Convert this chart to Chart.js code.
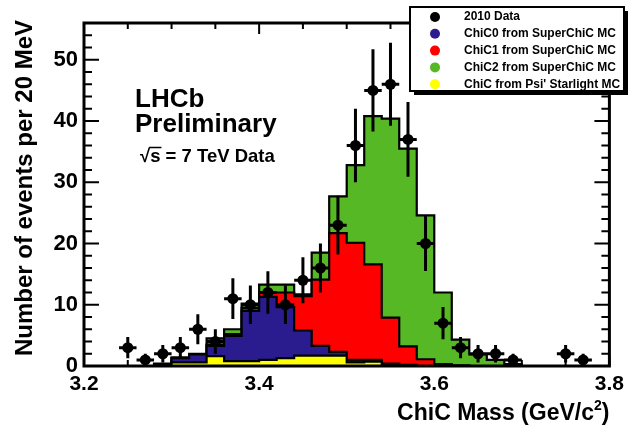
<!DOCTYPE html>
<html lang="en">
<head>
<meta charset="UTF-8">
<title>ChiC mass - LHCb preliminary</title>
<style>
  html, body { margin: 0; padding: 0; background: #fff; }
  #wrap { width: 630px; height: 431px; }
</style>
</head>
<body>
<div id="wrap"><canvas id="chicChart" width="630" height="431"></canvas></div>
<script src="https://cdn.jsdelivr.net/npm/chart.js"></script>
<script>
// 20 MeV bins, centres in GeV/c^2
const binCentres = [3.21, 3.23, 3.25, 3.27, 3.29, 3.31, 3.33, 3.35, 3.37, 3.39,
                    3.41, 3.43, 3.45, 3.47, 3.49, 3.51, 3.53, 3.55, 3.57, 3.59,
                    3.61, 3.63, 3.65, 3.67, 3.69, 3.71, 3.73, 3.75, 3.77, 3.79];

// 2010 data (events per bin)
const dataCounts = [0, 0, 3, 1, 2, 3, 6, 4, 11, 10,
                    12, 10, 14, 16, 23, 36, 45, 46, 37, 20,
                    7, 3, 2, 2, 1, 0, 0, 2, 1, 0];

// MC templates (not stacked)
const psiStarlight = [0, 0, 0, 0, 0, 0.6, 0.6, 1.6, 0.8, 0.8,
                      1.0, 1.3, 1.7, 1.7, 1.7, 0.6, 0.7, 0.2, 0.1, 0,
                      0, 0, 0, 0, 0, 0, 0, 0, 0, 0];
const chic0 = [0, 0, 0, 0, 0.3, 0.7, 1.3, 1.7, 4.1, 8.2,
               10.3, 8.3, 4.1, 1.6, 0.6, 0.4, 0.3, 0.2, 0.1, 0,
               0, 0, 0, 0, 0, 0, 0, 0, 0, 0];
const chic1 = [0, 0, 0, 0, 0, 0, 0, 0.2, 0.3, 0.5,
               0.7, 2.4, 5.6, 10.8, 19.4, 19.1, 15.6, 7.5, 3.0, 1.1,
               0.3, 0.1, 0, 0, 0, 0, 0, 0, 0, 0];
const chic2 = [0, 0, 0, 0, 0.1, 0.1, 0.1, 1.0, 0.8, 0.7,
               1.3, 1.3, 0.3, 4.4, 6.0, 12.7, 24.2, 32.5, 32.3, 23.5,
               11.7, 4.2, 1.9, 1.0, 0.3, 0, 0, 0, 0, 0];

const legendLabels = ['2010 Data', 'ChiC0 from SuperChiC MC', 'ChiC1 from SuperChiC MC',
                      'ChiC2 from SuperChiC MC', "ChiC from Psi' Starlight MC"];

const colours = { data: '#000000', chic0: '#2a1b8e', chic1: '#ff0000', chic2: '#55b824', psi: '#ffff00' };
const FONT = "'Liberation Sans', Arial, Helvetica, sans-serif";
const halfBin = 0.01;

// stack the templates: psi' at the bottom, then chic0, chic1, chic2
function cumulate(layers) {
    return binCentres.map((_, i) => layers.reduce((s, l) => s + l[i], 0));
}
const cumPsi = cumulate([psiStarlight]);
const cumChic0 = cumulate([psiStarlight, chic0]);
const cumChic1 = cumulate([psiStarlight, chic0, chic1]);
const cumChic2 = cumulate([psiStarlight, chic0, chic1, chic2]);

// points on the lower bin edges plus the last upper edge, for a stepped outline
function stepPoints(vals) {
    const pts = binCentres.map((c, i) => ({ x: c - halfBin, y: vals[i] }));
    pts.push({ x: binCentres[binCentres.length - 1] + halfBin, y: vals[vals.length - 1] });
    return pts;
}

function stepDataset(vals, colour, order) {
    return {
        data: stepPoints(vals),
        stepped: true,
        fill: 'origin',
        backgroundColor: colour,
        borderColor: '#000',
        borderWidth: 2.2,
        pointRadius: 0,
        tension: 0,
        order: order
    };
}

const dataPoints = binCentres
    .map((c, i) => ({ x: c, y: dataCounts[i] }))
    .filter(p => p.y > 0);

// ROOT-like frame, ticks, error bars, labels and legend
const rootStyle = {
    id: 'rootStyle',
    beforeDatasetsDraw(chart) {
        const { ctx, chartArea: a, scales: { x, y } } = chart;
        ctx.save();
        ctx.strokeStyle = '#000';
        ctx.lineWidth = 2;
        ctx.beginPath();
        for (let v = 0; v <= 56; v += 2) {
            const py = y.getPixelForValue(v);
            const len = v % 10 === 0 ? 15 : 8;
            ctx.moveTo(a.left, py); ctx.lineTo(a.left + len, py);
            ctx.moveTo(a.right, py); ctx.lineTo(a.right - len, py);
        }
        for (let k = 0; k <= 12; k++) {
            const px = x.getPixelForValue(3.2 + k * 0.05);
            const len = k % 4 === 0 ? 11 : 6;
            ctx.moveTo(px, a.bottom); ctx.lineTo(px, a.bottom - len);
            ctx.moveTo(px, a.top); ctx.lineTo(px, a.top + len);
        }
        ctx.stroke();
        ctx.restore();
    },
    afterDatasetsDraw(chart) {
        const { ctx, chartArea: a, scales: { x, y } } = chart;
        ctx.save();
        // error bars on data
        ctx.strokeStyle = '#000';
        ctx.lineWidth = 3;
        ctx.beginPath();
        dataPoints.forEach(p => {
            const err = Math.sqrt(p.y);
            const px = x.getPixelForValue(p.x);
            const py = y.getPixelForValue(p.y);
            ctx.moveTo(px, y.getPixelForValue(p.y - err));
            ctx.lineTo(px, y.getPixelForValue(p.y + err));
            ctx.moveTo(x.getPixelForValue(p.x - halfBin), py);
            ctx.lineTo(x.getPixelForValue(p.x + halfBin), py);
        });
        ctx.stroke();
        // frame
        ctx.lineWidth = 3;
        ctx.strokeRect(a.left, a.top, a.right - a.left, a.bottom - a.top);
        ctx.restore();
    },
    afterDraw(chart) {
        const { ctx } = chart;
        ctx.save();
        ctx.fillStyle = '#000';

        // y title
        ctx.save();
        ctx.translate(25, 20);
        ctx.rotate(-Math.PI / 2);
        ctx.font = 'bold 24px ' + FONT;
        ctx.textAlign = 'right';
        ctx.textBaseline = 'middle';
        ctx.fillText('Number of events per 20 MeV', 0, 0);
        ctx.restore();

        // x title, right aligned to the frame, with superscript
        ctx.textBaseline = 'alphabetic';
        ctx.textAlign = 'left';
        const main = 'ChiC Mass (GeV/c', tail = ')';
        ctx.font = 'bold 23px ' + FONT;
        const wMain = ctx.measureText(main).width;
        const wTail = ctx.measureText(tail).width;
        ctx.font = 'bold 14px ' + FONT;
        const wSup = ctx.measureText('2').width;
        const tx = chart.chartArea.right - (wMain + wSup + wTail);
        const ty = 420;
        ctx.font = 'bold 23px ' + FONT;
        ctx.fillText(main, tx, ty);
        ctx.font = 'bold 14px ' + FONT;
        ctx.fillText('2', tx + wMain, ty - 10);
        ctx.font = 'bold 23px ' + FONT;
        ctx.fillText(tail, tx + wMain + wSup, ty);

        // LHCb label
        ctx.font = 'bold 26px ' + FONT;
        ctx.fillText('LHCb', 135, 107);
        ctx.fillText('Preliminary', 135, 132);
        ctx.font = 'bold 18.5px ' + FONT;
        const sqrtW = ctx.measureText('\u221A').width;
        const sW = ctx.measureText('s').width;
        ctx.fillText('\u221A', 140, 162);
        ctx.fillText('s = 7 TeV Data', 140 + sqrtW, 162);
        ctx.lineWidth = 1.5;
        ctx.beginPath();
        ctx.moveTo(140 + sqrtW - 1, 147.5);
        ctx.lineTo(140 + sqrtW + sW + 1, 147.5);
        ctx.stroke();

        // legend box with shadow
        const lx = 410, ly = 7, lw = 214, lh = 84;
        ctx.fillStyle = '#000';
        ctx.fillRect(lx + 4, ly + 4, lw, lh);
        ctx.fillStyle = '#fff';
        ctx.fillRect(lx, ly, lw, lh);
        ctx.strokeStyle = '#000';
        ctx.lineWidth = 2;
        ctx.strokeRect(lx, ly, lw, lh);
        const markerColours = [colours.data, colours.chic0, colours.chic1, colours.chic2, colours.psi];
        ctx.font = 'bold 12px ' + FONT;
        ctx.textBaseline = 'middle';
        legendLabels.forEach((lab, i) => {
            const ry = ly + 10 + i * 16.8;
            ctx.fillStyle = markerColours[i];
            ctx.beginPath();
            ctx.arc(435, ry, 5, 0, Math.PI * 2);
            ctx.fill();
            ctx.fillStyle = '#000';
            ctx.fillText(lab, 464, ry);
        });
        ctx.restore();
    }
};

new Chart(document.getElementById('chicChart'), {
    type: 'line',
    data: {
        datasets: [
            {
                label: legendLabels[0],
                data: dataPoints,
                showLine: false,
                pointRadius: 5.5,
                pointBackgroundColor: colours.data,
                pointBorderWidth: 0,
                order: 0
            },
            stepDataset(cumPsi, colours.psi, 1),
            stepDataset(cumChic0, colours.chic0, 2),
            stepDataset(cumChic1, colours.chic1, 3),
            stepDataset(cumChic2, colours.chic2, 4)
        ]
    },
    options: {
        responsive: false,
        animation: false,
        events: [],
        layout: { padding: { top: 23, right: 20, left: 0, bottom: 0 } },
        plugins: { legend: { display: false }, tooltip: { enabled: false } },
        scales: {
            x: {
                type: 'linear',
                min: 3.2,
                max: 3.8,
                grid: { display: false, drawTicks: false },
                border: { display: false },
                ticks: {
                    stepSize: 0.2,
                    includeBounds: false,
                    autoSkip: false,
                    maxRotation: 0,
                    padding: 6,
                    color: '#000',
                    font: { family: FONT, size: 21, weight: 'bold' },
                    callback: v => Number(v).toFixed(1)
                },
                afterFit: s => { s.height = 65; }
            },
            y: {
                min: 0,
                max: 56,
                grid: { display: false, drawTicks: false },
                border: { display: false },
                ticks: {
                    stepSize: 10,
                    includeBounds: false,
                    padding: 6,
                    color: '#000',
                    font: { family: FONT, size: 22, weight: 'bold' }
                },
                afterFit: s => { s.width = 84; }
            }
        }
    },
    plugins: [rootStyle]
});
</script>
</body>
</html>
